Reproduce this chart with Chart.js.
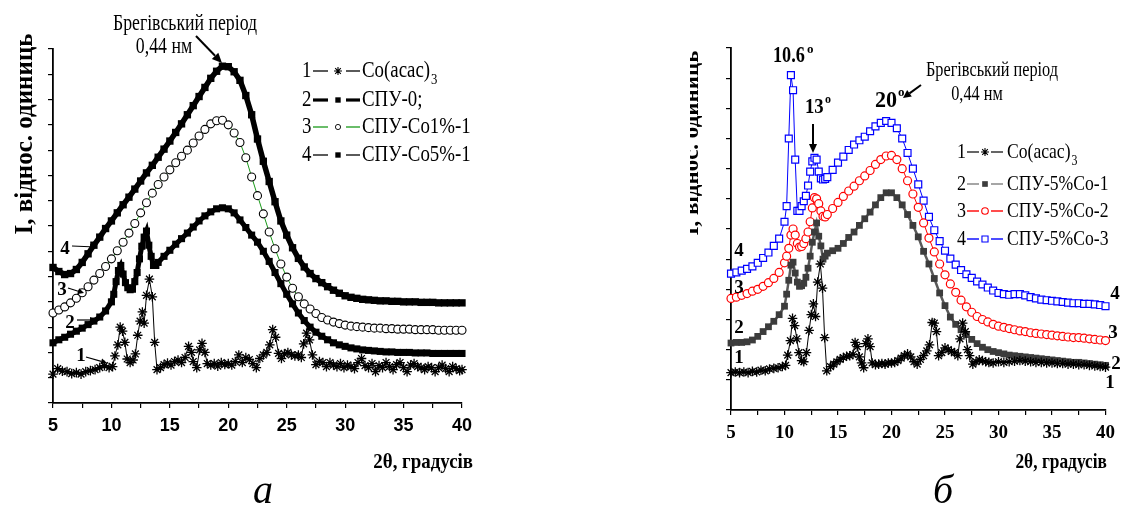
<!DOCTYPE html>
<html>
<head>
<meta charset="utf-8">
<style>
html,body{margin:0;padding:0;background:#fff;}
#wrap{position:relative;width:1122px;height:506px;overflow:hidden;background:#fff;}
#cA{position:absolute;left:0;top:0;width:690px;height:506px;}
#cB{position:absolute;left:690px;top:0;width:432px;height:506px;}
</style>
<script src="https://cdn.jsdelivr.net/npm/chart.js@4.4.1/dist/chart.umd.min.js"></script>
</head>
<body>
<div id="wrap">
<canvas id="cA" width="690" height="506"></canvas>
<canvas id="cB" width="432" height="506"></canvas>
</div>
<script>
// ---------------- DATA: panel "а" ----------------
const xTicksA = [5, 10, 15, 20, 25, 30, 35, 40];
const xLeft1 = [5.0,5.4,5.8,6.2,6.6,7.0,7.4,7.8,8.2,8.6,
 9.0,9.4,9.8,10.1,10.3,10.55,10.75,10.95,11.15,11.35,
 11.6,11.85,12.05,12.25,12.45,12.65,12.8,13.0,13.25,13.5,
 13.7,13.9,14.2,14.5,14.8,15.1,15.4,15.7,16.0,16.3,
 16.6,16.85,17.0,17.3,17.55,17.75,18.0,18.2,18.5,18.8,
 19.1,19.4,19.7,20.0,20.3,20.6,20.9,21.2,21.5,21.8,
 22.1,22.4,22.7,23.0,23.3,23.55,23.8,24.05,24.3,24.55,
 24.8,25.1,25.4,25.7,26.0,26.25,26.45,26.7,26.95,27.2,
 27.5,27.8,28.1,28.4,28.7,29.0,29.3,29.6,29.9,30.2,
 30.5,30.8,31.1,31.4,31.7,32.0,32.3,32.6,32.9,33.2,
 33.5,33.8,34.1,34.4,34.7,35.0,35.3,35.6,35.9,36.2,
 36.5,36.8,37.1,37.4,37.7,38.0,38.3,38.6,38.9,39.2,
 39.5,39.8,40.0];
const yLeft1 = [0.57,0.68,0.63,0.62,0.58,0.60,0.57,0.62,0.64,0.66,
 0.70,0.74,0.70,0.72,0.93,1.15,1.50,1.42,1.20,0.87,
 0.80,0.85,0.97,1.34,1.62,1.80,1.58,2.13,2.45,2.10,
 1.20,0.66,0.70,0.76,0.79,0.75,0.82,0.85,0.80,0.90,
 1.12,1.00,0.82,0.70,1.05,1.18,1.00,0.78,0.75,0.78,
 0.73,0.80,0.76,0.78,0.75,0.82,0.95,0.80,0.90,0.86,
 0.78,0.70,0.88,0.95,1.00,1.15,1.45,1.30,0.98,0.88,
 0.97,1.00,0.95,0.93,0.95,0.90,1.17,1.38,1.25,0.95,
 0.76,0.82,0.80,0.72,0.80,0.75,0.72,0.78,0.70,0.75,
 0.72,0.68,0.80,0.88,0.74,0.70,0.78,0.62,0.74,0.70,
 0.80,0.72,0.66,0.76,0.80,0.70,0.62,0.75,0.78,0.72,
 0.70,0.66,0.72,0.70,0.62,0.70,0.75,0.68,0.62,0.72,
 0.68,0.64,0.66];
const xLeft2 = [5,5.5,6,6.5,7,7.5,8,8.5,9,9.5,
 10,10.2,10.4,10.6,10.8,11,11.2,11.4,11.6,11.8,
 12,12.2,12.4,12.6,12.8,13,13.2,13.4,13.6,13.8,
 14,14.5,15,15.5,16,16.5,17,17.5,18,18.5,
 19,19.5,20,20.5,21,21.5,22,22.5,23,23.5,
 24,24.5,25,25.5,26,26.5,27,27.5,28,28.5,
 29,29.5,30,30.5,31,31.5,32,32.5,33,33.5,
 34,34.5,35,35.5,36,36.5,37,37.5,38,38.5,
 39,39.5,40];
const yLeft2 = [1.19,1.25,1.30,1.36,1.42,1.48,1.55,1.62,1.70,1.82,
 2.00,2.15,2.40,2.62,2.72,2.55,2.38,2.28,2.24,2.25,
 2.40,2.58,2.85,3.10,3.28,3.40,3.12,2.90,2.72,2.72,
 2.78,2.90,3.02,3.14,3.25,3.36,3.48,3.60,3.70,3.78,
 3.84,3.86,3.84,3.76,3.62,3.47,3.32,3.18,3.00,2.80,
 2.58,2.36,2.15,1.96,1.78,1.63,1.50,1.40,1.32,1.25,
 1.19,1.15,1.12,1.09,1.07,1.05,1.04,1.03,1.02,1.01,
 1.01,1.00,1.00,1.00,0.99,0.99,0.99,0.98,0.98,0.98,
 0.98,0.98,0.98];
const xLeft34 = [5,5.5,6,6.5,7,7.5,8,8.5,9,9.5,
 10,10.5,11,11.5,12,12.5,13,13.5,14,14.5,
 15,15.5,16,16.5,17,17.5,18,18.5,19,19.5,
 20,20.5,21,21.5,22,22.5,23,23.5,24,24.5,
 25,25.5,26,26.5,27,27.5,28,28.5,29,29.5,
 30,30.5,31,31.5,32,32.5,33,33.5,34,34.5,
 35,35.5,36,36.5,37,37.5,38,38.5,39,39.5,
 40];
const yLeft3 = [1.78,1.84,1.90,1.98,2.07,2.18,2.30,2.43,2.56,2.70,
 2.85,3.01,3.18,3.36,3.55,3.76,3.96,4.15,4.32,4.47,
 4.61,4.75,4.88,5.00,5.14,5.28,5.41,5.52,5.58,5.59,
 5.50,5.34,5.15,4.85,4.47,4.10,3.74,3.38,3.05,2.75,
 2.49,2.27,2.10,1.96,1.86,1.77,1.69,1.64,1.60,1.57,
 1.54,1.52,1.51,1.50,1.49,1.48,1.48,1.47,1.47,1.46,
 1.46,1.46,1.45,1.45,1.45,1.45,1.44,1.44,1.44,1.44,
 1.44];
const yLeft4 = [2.68,2.60,2.54,2.56,2.64,2.78,2.95,3.12,3.28,3.45,
 3.60,3.76,3.92,4.07,4.23,4.39,4.55,4.70,4.86,5.02,
 5.18,5.35,5.52,5.70,5.88,6.06,6.24,6.42,6.56,6.66,
 6.65,6.55,6.38,6.08,5.70,5.22,4.78,4.38,3.98,3.60,
 3.32,3.07,2.86,2.69,2.56,2.46,2.38,2.30,2.23,2.17,
 2.12,2.09,2.07,2.05,2.04,2.03,2.02,2.02,2.01,2.01,
 2.00,2.00,2.00,1.99,1.99,1.99,1.98,1.98,1.98,1.98,
 1.98];
const legendNumsA = ['1', '2', '3', '4'];
const legendTextA = ['Co(acac)', 'СПУ-0;', 'СПУ-Co1%-1', 'СПУ-Co5%-1'];

// ---------------- DATA: panel "б" ----------------
const xTicksB = [5, 10, 15, 20, 25, 30, 35, 40];
const xRight1 = [5.0,5.4,5.8,6.2,6.6,7.0,7.4,7.8,8.2,8.6,
 9.0,9.4,9.8,10.1,10.3,10.55,10.75,10.95,11.15,11.35,
 11.6,11.8,12.05,12.3,12.5,12.7,12.9,13.1,13.35,13.55,
 13.75,13.95,14.3,14.6,14.9,15.2,15.5,15.8,16.1,16.4,
 16.6,16.8,17.0,17.2,17.4,17.6,17.8,18.0,18.2,18.5,
 18.8,19.1,19.4,19.7,20.0,20.3,20.6,20.9,21.2,21.5,
 21.8,22.1,22.4,22.7,23.0,23.3,23.55,23.8,24.0,24.2,
 24.4,24.7,25.0,25.3,25.6,25.9,26.2,26.4,26.65,26.9,
 27.1,27.3,27.6,27.9,28.2,28.5,28.8,29.1,29.5,30.0,
 30.5,31.0,31.5,32.0,32.5,33.0,33.5,34.0,34.5,35.0,
 35.5,36.0,36.5,37.0,37.5,38.0,38.5,39.0,39.5,40.0];
const yRight1 = [0.62,0.63,0.62,0.63,0.62,0.64,0.63,0.66,0.65,0.68,
 0.69,0.70,0.72,0.74,0.91,1.15,1.52,1.40,1.18,0.95,
 0.82,0.80,0.95,1.32,1.58,1.76,1.55,2.12,2.42,2.02,
 1.20,0.65,0.72,0.76,0.80,0.84,0.87,0.89,0.90,0.92,
 1.12,1.05,0.88,0.78,0.70,1.10,1.18,1.05,0.78,0.75,
 0.76,0.77,0.76,0.78,0.78,0.79,0.82,0.86,0.90,0.93,
 0.88,0.80,0.76,0.84,0.90,0.98,1.08,1.45,1.44,1.30,
 0.90,0.95,1.03,1.00,0.97,0.95,0.90,1.18,1.44,1.30,
 1.00,0.90,0.76,0.80,0.83,0.82,0.80,0.79,0.78,0.80,
 0.79,0.80,0.81,0.82,0.81,0.80,0.79,0.79,0.78,0.78,
 0.77,0.77,0.76,0.76,0.75,0.75,0.74,0.73,0.72,0.71];
const xRight234 = [5,5.5,6,6.5,7,7.5,8,8.5,9,9.5,
 10,10.2,10.4,10.6,10.8,11,11.2,11.4,11.6,11.8,
 12,12.2,12.4,12.6,12.8,13,13.2,13.4,13.6,13.8,
 14,14.5,15,15.5,16,16.5,17,17.5,18,18.5,
 19,19.5,20,20.5,21,21.5,22,22.5,23,23.5,
 24,24.5,25,25.5,26,26.5,27,27.5,28,28.5,
 29,29.5,30,30.5,31,31.5,32,32.5,33,33.5,
 34,34.5,35,35.5,36,36.5,37,37.5,38,38.5,
 39,39.5,40];
const yRight2 = [1.11,1.12,1.12,1.13,1.16,1.22,1.30,1.38,1.47,1.58,
 1.72,1.92,2.15,2.40,2.45,2.27,2.12,2.05,2.06,2.10,
 2.20,2.35,2.55,2.78,2.95,3.10,2.88,2.72,2.50,2.55,
 2.60,2.64,2.68,2.76,2.86,2.95,3.06,3.17,3.28,3.40,
 3.52,3.60,3.60,3.52,3.40,3.24,3.06,2.87,2.63,2.42,
 2.18,1.94,1.73,1.54,1.42,1.33,1.25,1.17,1.10,1.04,
 1.00,0.97,0.95,0.93,0.91,0.90,0.89,0.88,0.87,0.86,
 0.85,0.84,0.83,0.82,0.81,0.80,0.79,0.79,0.78,0.77,
 0.76,0.75,0.74];
const yRight3 = [1.85,1.87,1.90,1.93,1.97,2.00,2.05,2.11,2.18,2.28,
 2.44,2.55,2.68,2.90,3.00,2.90,2.76,2.70,2.71,2.76,
 2.84,2.95,3.12,3.35,3.52,3.50,3.42,3.30,3.21,3.20,
 3.24,3.34,3.44,3.54,3.63,3.71,3.80,3.88,3.97,4.07,
 4.15,4.21,4.22,4.15,4.00,3.80,3.58,3.36,3.10,2.85,
 2.62,2.42,2.24,2.09,1.95,1.82,1.71,1.62,1.55,1.50,
 1.46,1.42,1.39,1.37,1.35,1.33,1.31,1.30,1.28,1.27,
 1.26,1.25,1.24,1.23,1.22,1.21,1.20,1.20,1.19,1.18,
 1.17,1.16,1.15];
const yRight4 = [2.26,2.28,2.31,2.34,2.38,2.44,2.52,2.61,2.72,2.84,
 3.12,3.38,4.50,5.55,5.30,4.15,3.30,3.30,3.38,3.46,
 3.55,3.72,3.95,4.12,4.18,4.15,3.95,3.84,3.82,3.83,
 3.86,3.98,4.10,4.20,4.31,4.40,4.47,4.53,4.62,4.70,
 4.76,4.79,4.76,4.67,4.50,4.26,4.00,3.74,3.47,3.20,
 2.98,2.80,2.64,2.51,2.41,2.32,2.25,2.19,2.13,2.08,
 2.03,1.98,1.94,1.92,1.91,1.92,1.92,1.90,1.87,1.85,
 1.83,1.82,1.81,1.80,1.79,1.78,1.77,1.77,1.76,1.76,
 1.75,1.74,1.72];
const legendNumsB = ['1', '2', '3', '4'];
const legendTextB = ['Co(acac)', 'СПУ-5%Co-1', 'СПУ-5%Co-2', 'СПУ-5%Co-3'];

// ---------------- TEXTS ----------------
const yTitle = 'I, віднос. одиниць';
const xTitle = '2θ, градусів';
const braggText = ['Брегівський період', '0,44 нм'];
const peakLabels = ['10.6', '13', '20'];
const captions = ['а', 'б'];

// ---------------- helpers ----------------
function pts(xs, ys) { return xs.map((x, i) => ({ x: x, y: ys[i] })); }

function txt(ctx, s, x, y, font, sx, align, baseline) {
  ctx.save();
  ctx.font = font;
  ctx.fillStyle = '#000';
  ctx.textAlign = 'left';
  ctx.textBaseline = baseline || 'alphabetic';
  const k = sx || 1;
  const w = ctx.measureText(s).width * k;
  let x0 = x;
  if (align === 'center') x0 = x - w / 2;
  else if (align === 'right') x0 = x - w;
  ctx.translate(x0, y);
  ctx.scale(k, 1);
  ctx.fillText(s, 0, 0);
  ctx.restore();
  return x0 + w;
}

function arrow(ctx, x1, y1, x2, y2, hl, hw, lw) {
  ctx.save();
  ctx.strokeStyle = '#000'; ctx.fillStyle = '#000'; ctx.lineWidth = lw;
  const a = Math.atan2(y2 - y1, x2 - x1);
  const bx = x2 - hl * Math.cos(a), by = y2 - hl * Math.sin(a);
  ctx.beginPath(); ctx.moveTo(x1, y1); ctx.lineTo(bx, by); ctx.stroke();
  ctx.beginPath(); ctx.moveTo(x2, y2);
  ctx.lineTo(bx + hw * Math.sin(a), by - hw * Math.cos(a));
  ctx.lineTo(bx - hw * Math.sin(a), by + hw * Math.cos(a));
  ctx.closePath(); ctx.fill();
  ctx.restore();
}

function marker(ctx, style, x, y, r, fill, stroke, lw) {
  ctx.save();
  ctx.lineWidth = lw; ctx.strokeStyle = stroke; ctx.fillStyle = fill;
  ctx.beginPath();
  if (style === 'rect') {
    const s = r * Math.SQRT1_2;
    ctx.rect(x - s, y - s, 2 * s, 2 * s); ctx.fill(); if (lw > 0) ctx.stroke();
  } else if (style === 'circle') {
    ctx.arc(x, y, r, 0, Math.PI * 2); ctx.fill(); ctx.stroke();
  } else if (style === 'star') {
    for (let k = 0; k < 4; k++) {
      const a = k * Math.PI / 4;
      ctx.moveTo(x - r * Math.cos(a), y - r * Math.sin(a));
      ctx.lineTo(x + r * Math.cos(a), y + r * Math.sin(a));
    }
    ctx.stroke();
  }
  ctx.restore();
}

function seg(ctx, x1, x2, y, color, lw) {
  ctx.save(); ctx.strokeStyle = color; ctx.lineWidth = lw;
  ctx.beginPath(); ctx.moveTo(x1, y); ctx.lineTo(x2, y); ctx.stroke(); ctx.restore();
}

function rotatedTitle(ctx, s, x, y, font) {
  ctx.save();
  ctx.translate(x, y); ctx.rotate(-Math.PI / 2);
  ctx.font = font; ctx.fillStyle = '#000';
  ctx.textAlign = 'center'; ctx.textBaseline = 'alphabetic';
  ctx.fillText(s, 0, 0);
  ctx.restore();
}

function baseOptions(c) {
  return {
    responsive: false,
    animation: false,
    devicePixelRatio: 1,
    layout: { padding: { left: 0, top: c.top, right: c.right, bottom: 0 } },
    plugins: { legend: { display: false }, tooltip: { enabled: false }, title: { display: false } },
    elements: { line: { tension: 0 } },
    scales: {
      x: {
        type: 'linear', min: 5, max: 40,
        afterFit: s => { s.height = c.xh; },
        ticks: {
          stepSize: 2.5, autoSkip: false, maxRotation: 0, padding: c.tpad, color: '#000',
          font: c.tickFont,
          callback: v => (c.xTicks.indexOf(v) >= 0 ? String(v) : '')
        },
        grid: { display: true, drawOnChartArea: false, drawTicks: true, tickLength: 5, color: '#000', lineWidth: 1.2 },
        border: { display: true, color: '#000', width: 1.8 }
      },
      y: {
        type: 'linear', min: 0, max: c.ymax,
        afterFit: s => { s.width = c.yw; },
        ticks: { display: false, stepSize: 0.5 },
        grid: { display: true, drawOnChartArea: false, drawTicks: true, tickLength: 5, color: '#000', lineWidth: 1.2 },
        border: { display: true, color: '#000', width: 1.8 }
      }
    }
  };
}

// ---------------- Panel а annotations ----------------
const annA = {
  id: 'annA',
  afterDraw(chart) {
    const ctx = chart.ctx;
    const serif = '"Liberation Serif", "Times New Roman", serif';
    rotatedTitle(ctx, yTitle, 32, 134, 'bold 25px ' + serif);
    txt(ctx, braggText[0], 185, 30, '24px ' + serif, 0.74, 'center');
    txt(ctx, braggText[1], 164, 53, '24px ' + serif, 0.74, 'center');
    arrow(ctx, 196, 36, 222, 63, 10, 4.5, 2);
    const ys = [71, 100, 127, 155];
    const lf = '23px ' + serif;
    const styles = [
      { lc: '#000', lw: 1.3, m: 'star', r: 4, f: '#000', s: '#000', mw: 1.1 },
      { lc: '#000', lw: 3.2, m: 'rect', r: 3.8, f: '#000', s: '#000', mw: 0 },
      { lc: '#1a9a1a', lw: 1.3, m: 'circle', r: 2.6, f: '#fff', s: '#000', mw: 0.9 },
      { lc: '#000', lw: 1.3, m: 'rect', r: 3.8, f: '#000', s: '#000', mw: 0 }
    ];
    for (let i = 0; i < 4; i++) {
      const y = ys[i], st = styles[i];
      txt(ctx, legendNumsA[i], 302, y, lf, 0.82, 'left', 'middle');
      seg(ctx, 313, 328, y, st.lc, st.lw);
      seg(ctx, 346, 360, y, st.lc, st.lw);
      marker(ctx, st.m, 338, y, st.r, st.f, st.s, st.mw);
      const e = txt(ctx, legendTextA[i], 362, y, lf, 0.82, 'left', 'middle');
      if (i === 0) txt(ctx, '3', e + 1, y + 9, '15px ' + serif, 0.85, 'left', 'middle');
    }
    const bf = 'bold 19px ' + serif;
    txt(ctx, '4', 65, 249, bf, 1, 'center', 'middle');
    arrow(ctx, 72, 246, 96, 247, 6, 3, 1.2);
    txt(ctx, '3', 62, 290, bf, 1, 'center', 'middle');
    arrow(ctx, 68, 288, 84, 293, 6, 3, 1.2);
    txt(ctx, '2', 70, 323, bf, 1, 'center', 'middle');
    arrow(ctx, 77, 320, 96, 320, 6, 3, 1.2);
    txt(ctx, '1', 81, 356, bf, 1, 'center', 'middle');
    arrow(ctx, 86, 357, 107, 363, 6, 3, 1.2);
    txt(ctx, xTitle, 473, 468, 'bold 22px ' + serif, 0.86, 'right');
    txt(ctx, captions[0], 263, 503, 'italic 40px ' + serif, 1, 'center');
  }
};

// ---------------- Panel б annotations (canvas offset 690) ----------------
const OX = 690;
const annB = {
  id: 'annB',
  afterDraw(chart) {
    const ctx = chart.ctx;
    const serif = '"Liberation Serif", "Times New Roman", serif';
    rotatedTitle(ctx, yTitle, 698 - OX, 143, 'bold 23px ' + serif);
    txt(ctx, peakLabels[0], 773 - OX, 62, 'bold 24px ' + serif, 0.76, 'left');
    txt(ctx, 'o', 807 - OX, 53, 'bold 13px ' + serif, 1, 'left');
    txt(ctx, peakLabels[1], 805 - OX, 113, 'bold 22px ' + serif, 0.85, 'left');
    txt(ctx, 'o', 825 - OX, 103, 'bold 12px ' + serif, 1, 'left');
    arrow(ctx, 813 - OX, 124, 813 - OX, 153, 9, 4, 2);
    txt(ctx, peakLabels[2], 875 - OX, 107, 'bold 24px ' + serif, 0.92, 'left');
    txt(ctx, 'o', 898 - OX, 96, 'bold 13px ' + serif, 1, 'left');
    arrow(ctx, 921 - OX, 85, 903 - OX, 98, 8, 4, 2);
    txt(ctx, braggText[0], 992 - OX, 76, '22px ' + serif, 0.74, 'center');
    txt(ctx, braggText[1], 977 - OX, 100, '22px ' + serif, 0.74, 'center');
    const ys = [152, 184, 211, 239];
    const lf = '22px ' + serif;
    const styles = [
      { lc: '#000', lw: 1.2, m: 'star', r: 4, f: '#000', s: '#000', mw: 1.1 },
      { lc: '#808080', lw: 1.4, m: 'rect', r: 4, f: '#3c3c3c', s: '#3c3c3c', mw: 0 },
      { lc: '#ff0000', lw: 1.4, m: 'circle', r: 3.3, f: '#fff', s: '#ff0000', mw: 1.1 },
      { lc: '#0000ff', lw: 1.4, m: 'rect', r: 4.3, f: '#fff', s: '#0000ff', mw: 1.1 }
    ];
    for (let i = 0; i < 4; i++) {
      const y = ys[i], st = styles[i];
      txt(ctx, legendNumsB[i], 957 - OX, y, lf, 0.82, 'left', 'middle');
      seg(ctx, 967 - OX, 979 - OX, y, st.lc, st.lw);
      seg(ctx, 991 - OX, 1003 - OX, y, st.lc, st.lw);
      marker(ctx, st.m, 985 - OX, y, st.r, st.f, st.s, st.mw);
      const e = txt(ctx, legendTextB[i], 1007 - OX, y, lf, 0.8, 'left', 'middle');
      if (i === 0) txt(ctx, '3', e + 1, y + 9, '14px ' + serif, 0.85, 'left', 'middle');
    }
    const bf = 'bold 19px ' + serif;
    txt(ctx, '4', 739 - OX, 251, bf, 1, 'center', 'middle');
    txt(ctx, '3', 739 - OX, 288, bf, 1, 'center', 'middle');
    txt(ctx, '2', 739 - OX, 328, bf, 1, 'center', 'middle');
    txt(ctx, '1', 739 - OX, 358, bf, 1, 'center', 'middle');
    txt(ctx, '4', 1115 - OX, 294, bf, 1, 'center', 'middle');
    txt(ctx, '3', 1113 - OX, 333, bf, 1, 'center', 'middle');
    txt(ctx, '2', 1116 - OX, 364, bf, 1, 'center', 'middle');
    txt(ctx, '1', 1110 - OX, 383, bf, 1, 'center', 'middle');
    txt(ctx, xTitle, 1107 - OX, 468, 'bold 22px ' + serif, 0.79, 'right');
    txt(ctx, captions[1], 943 - OX, 503, 'italic 40px ' + serif, 1, 'center');
  }
};

// ---------------- Charts ----------------
const optA = baseOptions({
  top: 49, right: 690 - 462, xh: 506 - 403, yw: 53, ymax: 7, tpad: 7, xTicks: xTicksA,
  tickFont: { family: '"Liberation Sans", Arial, sans-serif', size: 18, weight: 'bold' }
});
new Chart(document.getElementById('cA'), {
  type: 'line',
  data: {
    datasets: [
      { label: legendTextA[0], data: pts(xLeft1, yLeft1), clip: false,
        borderColor: '#000', borderWidth: 1, pointStyle: 'star', pointRadius: 4.8,
        pointBorderColor: '#000', pointBackgroundColor: '#000', pointBorderWidth: 1.3 },
      { label: legendTextA[1], data: pts(xLeft2, yLeft2), clip: false,
        borderColor: '#000', borderWidth: 5, pointStyle: 'rect', pointRadius: 5,
        pointBorderColor: '#000', pointBackgroundColor: '#000', pointBorderWidth: 0 },
      { label: legendTextA[2], data: pts(xLeft34, yLeft3), clip: false,
        borderColor: '#1a9a1a', borderWidth: 1, pointStyle: 'circle', pointRadius: 4,
        pointBorderColor: '#000', pointBackgroundColor: '#fff', pointBorderWidth: 1.1 },
      { label: legendTextA[3], data: pts(xLeft34, yLeft4), clip: false,
        borderColor: '#000', borderWidth: 5.5, pointStyle: 'rect', pointRadius: 5.2,
        pointBorderColor: '#000', pointBackgroundColor: '#000', pointBorderWidth: 0 }
    ]
  },
  options: optA,
  plugins: [annA]
});

const optB = baseOptions({
  top: 48, right: 432 - 418, xh: 506 - 410, yw: 41, ymax: 6, tpad: 7, xTicks: xTicksB,
  tickFont: { family: '"Liberation Serif", "Times New Roman", serif', size: 19, weight: 'bold' }
});
new Chart(document.getElementById('cB'), {
  type: 'line',
  data: {
    datasets: [
      { label: legendTextB[0], data: pts(xRight1, yRight1), clip: false,
        borderColor: '#000', borderWidth: 1, pointStyle: 'star', pointRadius: 4.8,
        pointBorderColor: '#000', pointBackgroundColor: '#000', pointBorderWidth: 1.3 },
      { label: legendTextB[1], data: pts(xRight234, yRight2), clip: false,
        borderColor: '#5a5a5a', borderWidth: 2.5, pointStyle: 'rect', pointRadius: 4.8,
        pointBorderColor: '#3c3c3c', pointBackgroundColor: '#3c3c3c', pointBorderWidth: 0 },
      { label: legendTextB[2], data: pts(xRight234, yRight3), clip: false,
        borderColor: '#ff0000', borderWidth: 1, pointStyle: 'circle', pointRadius: 4,
        pointBorderColor: '#ff0000', pointBackgroundColor: '#fff', pointBorderWidth: 1.2 },
      { label: legendTextB[3], data: pts(xRight234, yRight4), clip: false,
        borderColor: '#0000ff', borderWidth: 1, pointStyle: 'rect', pointRadius: 4.9,
        pointBorderColor: '#0000ff', pointBackgroundColor: '#fff', pointBorderWidth: 1.2 }
    ]
  },
  options: optB,
  plugins: [annB]
});
</script>
</body>
</html>
